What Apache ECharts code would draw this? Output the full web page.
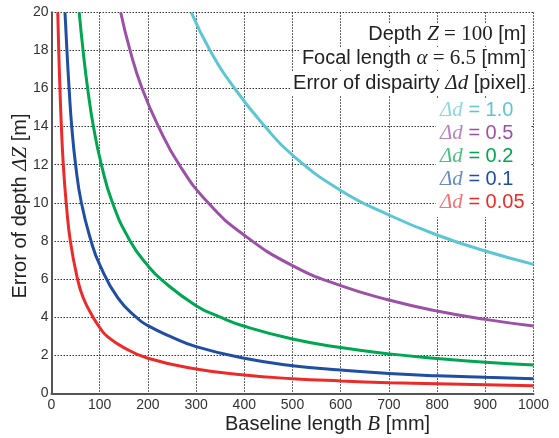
<!DOCTYPE html>
<html>
<head>
<meta charset="utf-8">
<script src="https://cdn.jsdelivr.net/npm/echarts@6/dist/echarts.min.js"></script>
<style>html,body{margin:0;padding:0;background:#fff}#c{width:559px;height:438px}</style>
</head>
<body>
<div id="c"></div>
<script>
// Data
const xTicks = [0,100,200,300,400,500,600,700,800,900,1000];
const yTicks = [0,2,4,6,8,10,12,14,16,18,20];

const seriesNames = ['Δd = 1.0','Δd = 0.5','Δd = 0.2','Δd = 0.1','Δd = 0.05'];

const bCyan   = [290,329,380,443,500,600,700,800,900,1000];
const zCyan   = [20,18,16,14,12.5,10.65,9.36,8.31,7.47,6.77];

const bPurple = [143.5,163,188,222,265,325,400,500,600,700,800,900,1000];
const zPurple = [20,18,16,14,12,10,8.3,6.7,5.65,4.9,4.32,3.88,3.53];

const bGreen  = [57.5,65.5,75,87,103.5,126.5,163,200,228.6,300,350,400,500,600,700,800,900,1000];
const zGreen  = [20,18,16,14,12,10,8,6.7,5.95,4.6,4,3.52,2.85,2.4,2.07,1.83,1.63,1.48];

const bBlue   = [28,32,36.5,42,50,62,82,100,138,180,200,245,300,400,500,600,700,800,900,1000];
const zBlue   = [20,18,16,14,12,10,8,6.75,5,3.9,3.55,3,2.45,1.84,1.45,1.22,1.04,0.92,0.84,0.77];

const bRed    = [13,15,17.5,20.5,24.5,30.5,39,54,66,86,100,115,150,200,300,400,500,600,700,800,900,1000];
const zRed    = [20,18,16,14,12,10,8,6,5,4,3.45,3,2.4,1.84,1.28,0.96,0.77,0.65,0.56,0.5,0.45,0.40];

const colors = ['#5cc6d3','#9b51a5','#00a651','#1f4ea3','#ed2a2a'];
const lightColors = ['#8fd8e1','#b985c0','#4dc181','#6a8cc6','#f27575'];

function pairs(b, z){ return b.map((v,i)=>[v, z[i]]); }
const allData = [pairs(bCyan,zCyan), pairs(bPurple,zPurple), pairs(bGreen,zGreen), pairs(bBlue,zBlue), pairs(bRed,zRed)];

const chart = echarts.init(document.getElementById('c'), null, {renderer:'canvas'});
const SANS = '"Liberation Sans", Arial, sans-serif';
const SERIF = '"Liberation Serif", "Times New Roman", serif';

const legendGraphics = seriesNames.map((n, i) => ({
  type: 'text',
  left: 440,
  top: 100 + i*23,
  z: 100,
  style: {
    text: '{i|Δd}{t| = ' + n.split('= ')[1] + '}',
    rich: {
      i: {font: 'italic 21px ' + SERIF, fill: lightColors[i]},
      t: {font: '20px ' + SANS, fill: colors[i]}
    },
    fill: colors[i]
  }
}));

chart.setOption({
  animation: false,
  backgroundColor: '#fff',
  grid: {left: 51.5, right: 25.5, top: 12.3, bottom: 44.7, containLabel: false},
  xAxis: {
    type: 'value', min: 0, max: 1000, interval: 100,
    axisLine: {show: true, lineStyle: {color: '#555', width: 2}},
    axisTick: {show: false},
    axisLabel: {fontFamily: SANS, fontSize: 14, color: '#333', margin: 5, formatter: v => String(v)},
    splitLine: {show: true, lineStyle: {color: '#333', type: [1.5, 1.5], width: 1}}
  },
  yAxis: {
    type: 'value', min: 0, max: 20, interval: 2,
    axisLine: {show: true, lineStyle: {color: '#555', width: 2}},
    axisTick: {show: false},
    axisLabel: {fontFamily: SANS, fontSize: 14, color: '#333', margin: 3, formatter: v => String(v)},
    splitLine: {show: true, lineStyle: {color: '#333', type: [1.5, 1.5], width: 1}}
  },
  series: allData.map((d, i) => ({
    name: seriesNames[i],
    type: 'line',
    data: d,
    smooth: 0.5,
    showSymbol: false,
    clip: true,
    lineStyle: {color: colors[i], width: 3},
    z: 3
  })),
  graphic: [
    {type:'rect', z: 90, shape:{x: 436, y: 99, width: 94, height: 118}, style:{fill:'#fff'}},
    {type:'text', right: 31, top: 23, z: 100,
      style:{text:'Depth {i|Z}{s| = 100} [m]', font:'20px ' + SANS, fill:'#222', backgroundColor:'#fff', padding:[1,2],
        rich:{i:{font:'italic 21px ' + SERIF, fill:'#222'}, s:{font:'21px ' + SERIF, fill:'#222'}}}},
    {type:'text', right: 31, top: 47, z: 100,
      style:{text:'Focal length {i|α}{s| = 6.5} [mm]', font:'20px ' + SANS, fill:'#222', backgroundColor:'#fff', padding:[1,2],
        rich:{i:{font:'italic 21px ' + SERIF, fill:'#222'}, s:{font:'21px ' + SERIF, fill:'#222'}}}},
    {type:'text', right: 31, top: 72, z: 100,
      style:{text:'Error of dispairty {i|Δd} [pixel]', font:'20px ' + SANS, fill:'#222', backgroundColor:'#fff', padding:[1,2],
        rich:{i:{font:'italic 21px ' + SERIF, fill:'#222'}}}},
    ...legendGraphics,
    {type:'text', left: 225, top: 414, z: 100,
      style:{text:'Baseline length {i|B} [mm]', font:'20px ' + SANS, fill:'#222',
        rich:{i:{font:'italic 21px ' + SERIF, fill:'#222'}}}},
    {type:'text', x: 20, y: 206, rotation: Math.PI/2, z: 100,
      style:{text:'Error of depth {i|ΔZ} [m]', font:'20px ' + SANS, fill:'#222', align:'center', verticalAlign:'middle',
        rich:{i:{font:'italic 21px ' + SERIF, fill:'#222'}}}}
  ]
});
</script>
</body>
</html>
